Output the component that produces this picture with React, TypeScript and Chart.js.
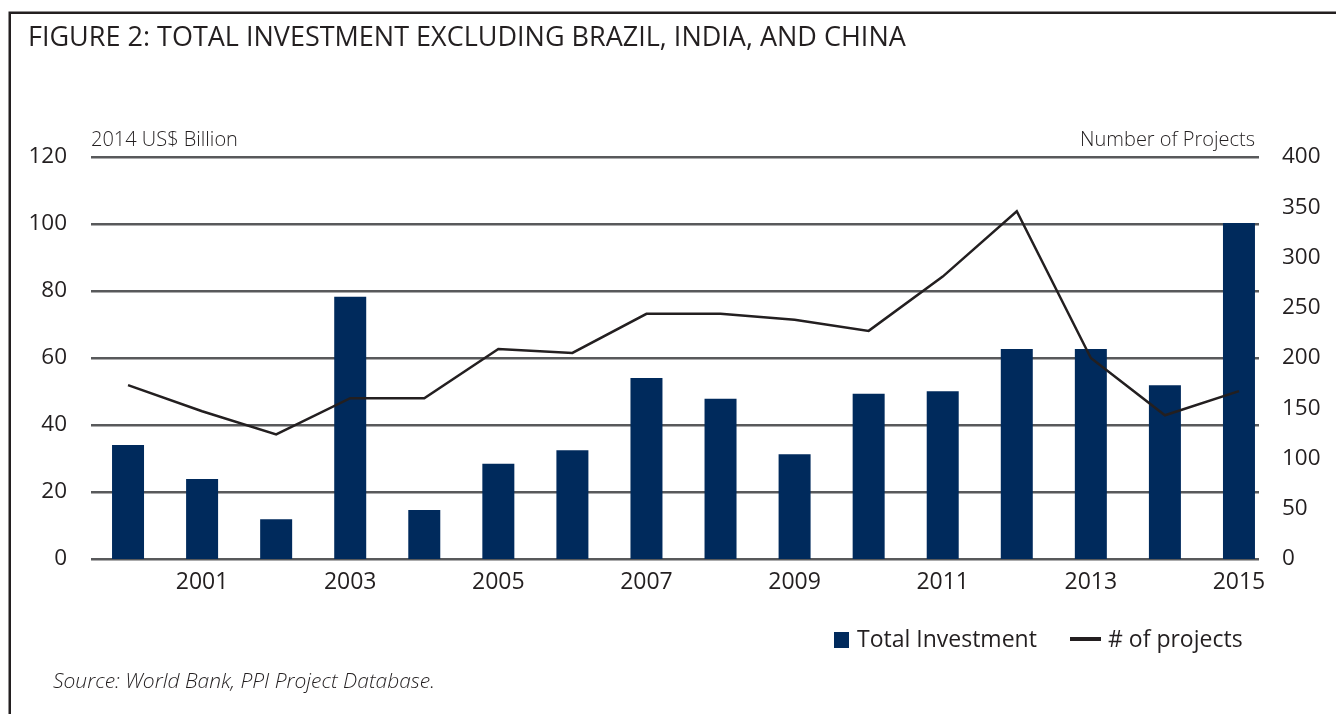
import React, { useEffect, useRef } from 'react';
import { Chart, registerables } from 'chart.js';

Chart.register(...registerables);

const years = ['2000', '2001', '2002', '2003', '2004', '2005', '2006', '2007', '2008', '2009', '2010', '2011', '2012', '2013', '2014', '2015'];
const totalInvestment = [34.0, 23.9, 11.9, 78.3, 14.6, 28.4, 32.5, 54.0, 47.8, 31.3, 49.3, 50.1, 62.7, 62.7, 51.9, 100.3];
const projectCounts = [173, 147, 124, 160, 160, 209, 205, 244, 244, 238, 227, 281, 346, 200, 143, 167];
const leftAxisMax = 120;
const leftAxisStep = 20;
const rightAxisMax = 400;
const rightAxisStep = 50;

const titleText = 'FIGURE 2: TOTAL INVESTMENT EXCLUDING BRAZIL, INDIA, AND CHINA';
const leftAxisTitle = '2014 US$ Billion';
const rightAxisTitle = 'Number of Projects';
const barLabel = 'Total Investment';
const lineLabel = '# of projects';
const sourceText = 'Source: World Bank, PPI Project Database.';

const W = 1336;
const H = 714;
const FONT = '"Open Sans", "Noto Sans", "DejaVu Sans", sans-serif';
const TEXT = '#231f20';
const NAVY = '#002a5c';
const GRID = '#58595b';
const GRID_RIGHT_INSET = 17;

const decorPlugin = {
  id: 'decor',
  beforeDraw(chart: any) {
    const ctx = chart.ctx;
    ctx.save();
    ctx.fillStyle = '#ffffff';
    ctx.fillRect(0, 0, W, H);
    ctx.strokeStyle = TEXT;
    ctx.lineWidth = 2.5;
    ctx.beginPath();
    ctx.moveTo(9.75, H + 5);
    ctx.lineTo(9.75, 12.75);
    ctx.lineTo(W + 5, 12.75);
    ctx.stroke();
    ctx.restore();
  },
  beforeDatasetsDraw(chart: any) {
    const ctx = chart.ctx;
    const area = chart.chartArea;
    const yScale = chart.scales.y;
    ctx.save();
    ctx.strokeStyle = GRID;
    ctx.lineWidth = 2.5;
    yScale.ticks.forEach((t: any) => {
      const py = Math.round(yScale.getPixelForValue(t.value)) + 0.25;
      ctx.beginPath();
      ctx.moveTo(area.left, py);
      ctx.lineTo(area.right - GRID_RIGHT_INSET, py);
      ctx.stroke();
    });
    ctx.restore();
  },
  afterDraw(chart: any) {
    const ctx = chart.ctx;
    const area = chart.chartArea;
    ctx.save();
    ctx.fillStyle = TEXT;
    ctx.textBaseline = 'alphabetic';

    ctx.font = `400 27px ${FONT}`;
    ctx.textAlign = 'left';
    ctx.fillText(titleText, 28, 46);

    ctx.font = `300 20px ${FONT}`;
    ctx.textAlign = 'left';
    ctx.fillText(leftAxisTitle, area.left, 146);
    ctx.textAlign = 'right';
    ctx.fillText(rightAxisTitle, area.right - GRID_RIGHT_INSET - 4, 146);

    // legend
    const ly = 640;
    ctx.font = `400 23px ${FONT}`;
    ctx.textBaseline = 'middle';
    ctx.textAlign = 'left';
    ctx.fillStyle = NAVY;
    ctx.fillRect(834, ly - 8, 15, 16);
    ctx.fillStyle = TEXT;
    ctx.fillText(barLabel, 857, ly);
    ctx.strokeStyle = TEXT;
    ctx.lineWidth = 4;
    ctx.beginPath();
    ctx.moveTo(1070, ly - 1);
    ctx.lineTo(1101, ly - 1);
    ctx.stroke();
    ctx.fillText(lineLabel, 1108, ly);

    ctx.font = `italic 300 21px ${FONT}`;
    ctx.textBaseline = 'middle';
    ctx.fillText(sourceText, 53, 682);
    ctx.restore();
  },
};

export default function App() {
  const ref = useRef<HTMLCanvasElement | null>(null);

  useEffect(() => {
    document.body.style.margin = '0';
    const canvas = ref.current;
    if (!canvas) return;
    const chart = new Chart(canvas, {
      type: 'bar',
      data: {
        labels: years,
        datasets: [
          {
            type: 'line',
            label: lineLabel,
            data: projectCounts,
            yAxisID: 'y1',
            borderColor: TEXT,
            backgroundColor: TEXT,
            borderWidth: 2.5,
            pointRadius: 0,
            tension: 0,
            order: 0,
          } as any,
          {
            type: 'bar',
            label: barLabel,
            data: totalInvestment,
            yAxisID: 'y',
            backgroundColor: NAVY,
            borderWidth: 0,
            barPercentage: 0.432,
            categoryPercentage: 1,
            order: 1,
          },
        ],
      },
      options: {
        responsive: false,
        maintainAspectRatio: false,
        animation: false,
        layout: { padding: { top: 157, left: 0, right: 0, bottom: 0 } },
        plugins: {
          legend: { display: false },
          title: { display: false },
          tooltip: { enabled: false },
        },
        scales: {
          x: {
            grid: { display: false, drawTicks: false },
            border: { display: false },
            ticks: {
              autoSkip: false,
              maxRotation: 0,
              color: TEXT,
              padding: 10,
              font: { family: FONT, size: 23 },
              callback: (_v: any, i: number) => (i % 2 === 1 ? years[i] : ''),
            },
            afterFit: (s: any) => {
              s.height = H - 559;
            },
          },
          y: {
            position: 'left',
            min: 0,
            max: leftAxisMax,
            grid: { display: false, drawTicks: false },
            border: { display: false },
            ticks: {
              stepSize: leftAxisStep,
              color: TEXT,
              padding: 24,
              font: { family: FONT, size: 22.5 },
            },
            afterFit: (s: any) => {
              s.width = 91;
            },
          },
          y1: {
            position: 'right',
            min: 0,
            max: rightAxisMax,
            grid: { display: false, drawTicks: false },
            border: { display: false },
            ticks: {
              stepSize: rightAxisStep,
              color: TEXT,
              padding: 6,
              font: { family: FONT, size: 22.5 },
            },
            afterFit: (s: any) => {
              s.width = W - 1276;
            },
          },
        },
      },
      plugins: [decorPlugin],
    });
    return () => chart.destroy();
  }, []);

  return (
    <div style={{ position: 'absolute', left: 0, top: 0, width: W, height: H }}>
      <canvas ref={ref} width={W} height={H} style={{ display: 'block', width: W, height: H }} />
    </div>
  );
}
